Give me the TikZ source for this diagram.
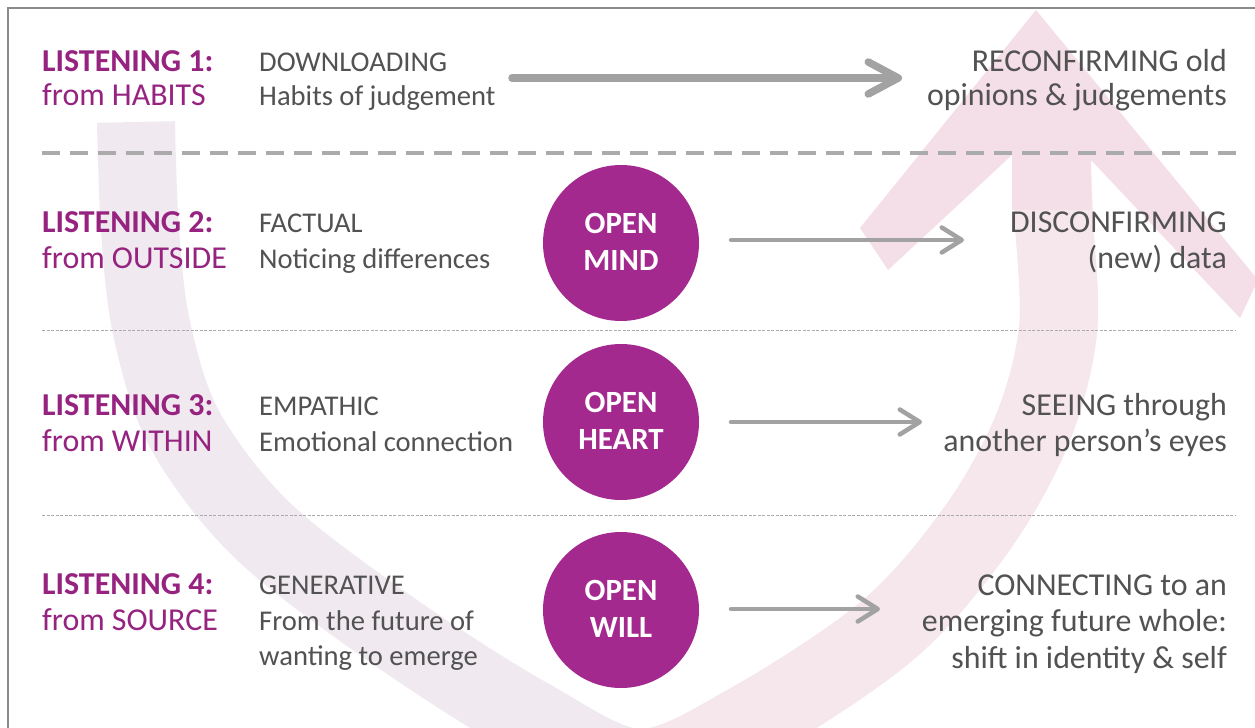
\documentclass[tikz,border=0pt]{standalone}
\usepackage{fontspec}
\setmainfont{Carlito}
\usetikzlibrary{arrows.meta}

\definecolor{purpletext}{HTML}{95237F}
\definecolor{circlefill}{HTML}{A4298F}
\definecolor{graytext}{HTML}{525252}
\definecolor{arrowgray}{HTML}{A2A2A2}
\definecolor{dashgray}{HTML}{ABABAB}
\definecolor{framegray}{HTML}{8A8A8A}
\definecolor{brushleft}{HTML}{F0EAF0}
\definecolor{brushright}{HTML}{F6E7ED}
\definecolor{brushhead}{HTML}{F4DEE7}

\tikzset{
  bigtxt/.style={font=\fontsize{32}{38}\selectfont, inner sep=0pt},
  midtxt/.style={font=\fontsize{28.7}{34}\selectfont, inner sep=0pt},
  lvl/.style={bigtxt, font=\fontsize{32}{38}\selectfont\bfseries, text=purpletext, anchor=base west},
  src/.style={bigtxt, text=purpletext, anchor=base west},
  kind/.style={midtxt, text=graytext, anchor=base west},
  result/.style={bigtxt, text=graytext, anchor=base east},
  opencircle/.style={circle, fill=circlefill, minimum size=156bp, inner sep=0pt},
  ctext/.style={inner sep=0pt, font=\fontsize{31}{37}\selectfont\bfseries, text=white, anchor=base},
  bigflow/.style={draw=arrowgray, line width=7.5bp, line cap=round,
    -{Straight Barb[length=30bp, width=32bp, round]}},
  flow/.style={draw=arrowgray, line width=4.5bp, line cap=round,
    -{Straight Barb[length=20bp, width=25bp, round]}},
  divider/.style={draw=dashgray, line width=3.5bp, dash pattern=on 18bp off 10bp},
  fineline/.style={draw=dashgray, line width=1bp, dash pattern=on 3bp off 1.5bp}
}

\begin{document}
\begin{tikzpicture}[x=1bp, y=-1bp]
\useasboundingbox (0,0) rectangle (1255,728);
\fill[white] (0,0) rectangle (1255,728);

% background brush stroke: a U sweeping down the left, under, and up the right
\begin{scope}
  \clip (8,8) rectangle (1255,728);
  \def\brushpath{plot[smooth, tension=0.55] coordinates {
    (136,122) (140,230) (152,330) (185,430) (262,530) (392,630) (530,718)
    (640,768) (750,722) (888,630) (976,530) (1032,430) (1058,330) (1054,220) (1051,150)}}
  \draw[brushleft, line width=78bp] \brushpath;
  \begin{scope}
    \clip (640,0) rectangle (1255,800);
    \draw[brushright, line width=78bp] \brushpath;
  \end{scope}
  % arrowhead of the stroke
  \fill[brushhead] (1036,10) -- (1258,280) -- (1240,318) -- (1091,160) -- (1091,210)
    -- (1012,210) -- (1012,155) -- (888,270) -- (860,228) -- cycle;
\end{scope}

% frame (top and left edges)
\draw[framegray, line width=1.8bp] (8,728) -- (8,8) -- (1255,8);

% separators
\coordinate (d1) at (42,153);  \coordinate (d2) at (1236,153);
\coordinate (f1) at (42,330);  \coordinate (f2) at (1236,330);
\coordinate (g1) at (42,515);  \coordinate (g2) at (1236,515);
\draw[divider] (d1) -- (d2);
\draw[fineline] (f1) -- (f2);
\draw[fineline] (g1) -- (g2);

% row 1: downloading
\node[lvl]    (l1a) at (42,72)   {LISTENING 1:};
\node[src]    (l1b) at (42,106)  {from HABITS};
\node[kind]   (k1a) at (259,72)  {DOWNLOADING};
\node[kind]   (k1b) at (259,106) {Habits of judgement};
\node[result] (r1a) at (1227,72)  {RECONFIRMING old};
\node[result] (r1b) at (1227,106) {opinions \& judgements};
\coordinate (a1s) at (512,78);
\coordinate (a1e) at (902,78);
\draw[bigflow] (a1s) -- (a1e);

% row 2: factual
\node[lvl]    (l2a) at (42,233)  {LISTENING 2:};
\node[src]    (l2b) at (42,268)  {from OUTSIDE};
\node[kind]   (k2a) at (259,233) {FACTUAL};
\node[kind]   (k2b) at (259,268) {Noticing differences};
\node[opencircle] (c2) at (621,243) {};
\node[ctext] (c2a) at ([yshift=9.5bp]c2.center) {OPEN};
\node[ctext] (c2b) at ([yshift=-27.5bp]c2.center) {MIND};
\node[result] (r2a) at (1227,233) {DISCONFIRMING};
\node[result] (r2b) at (1227,268) {(new) data};
\coordinate (a2s) at (731,240);
\coordinate (a2e) at (964,240);
\draw[flow] (a2s) -- (a2e);

% row 3: empathic
\node[lvl]    (l3a) at (42,415)  {LISTENING 3:};
\node[src]    (l3b) at (42,451)  {from WITHIN};
\node[kind]   (k3a) at (259,415) {EMPATHIC};
\node[kind]   (k3b) at (259,451) {Emotional connection};
\node[opencircle] (c3) at (621,422) {};
\node[ctext] (c3a) at ([yshift=9.5bp]c3.center) {OPEN};
\node[ctext] (c3b) at ([yshift=-27.5bp]c3.center) {HEART};
\node[result] (r3a) at (1227,415) {SEEING through};
\node[result] (r3b) at (1227,451) {another person’s eyes};
\coordinate (a3s) at (731,422);
\coordinate (a3e) at (922,422);
\draw[flow] (a3s) -- (a3e);

% row 4: generative
\node[lvl]    (l4a) at (42,594)  {LISTENING 4:};
\node[src]    (l4b) at (42,630)  {from SOURCE};
\node[kind]   (k4a) at (259,594) {GENERATIVE};
\node[kind]   (k4b) at (259,630) {From the future of};
\node[kind]   (k4c) at (259,665) {wanting to emerge};
\node[opencircle] (c4) at (621,610) {};
\node[ctext] (c4a) at ([yshift=9.5bp]c4.center) {OPEN};
\node[ctext] (c4b) at ([yshift=-27.5bp]c4.center) {WILL};
\node[result] (r4a) at (1227,595) {CONNECTING to an};
\node[result] (r4b) at (1227,631) {emerging future whole:};
\node[result] (r4c) at (1227,668) {shift in identity \& self};
\coordinate (a4s) at (731,609);
\coordinate (a4e) at (880,609);
\draw[flow] (a4s) -- (a4e);
\end{tikzpicture}
\end{document}
